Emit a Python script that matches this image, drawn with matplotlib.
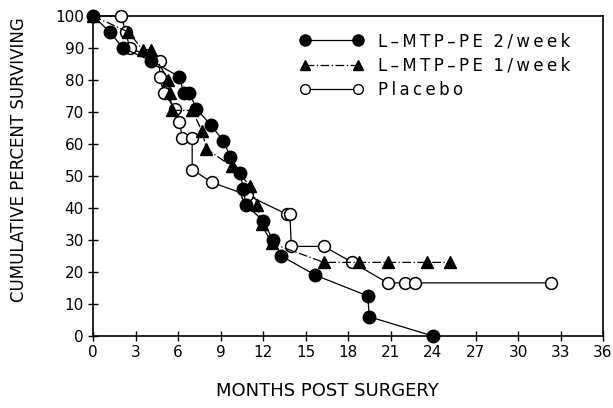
import matplotlib
matplotlib.use("Agg")
import matplotlib.pyplot as plt
from matplotlib.lines import Line2D

# L-MTP-PE 2/week (filled circles)
twice_months = [0, 1.2, 2.1, 4.1, 6.1, 6.4, 6.8, 7.3, 8.3, 9.2, 9.7, 10.4, 10.6, 10.8,
                12.0, 12.7, 13.3, 15.7, 19.4, 19.5, 24.0]
twice_pct = [100, 95, 90, 86, 81, 76, 76, 71, 66, 61, 56, 51, 46, 41,
             36, 30, 25, 19, 12.5, 6, 0]

# L-MTP-PE 1/week (filled triangles)
once_months = [0, 2.5, 3.5, 4.1, 5.3, 5.4, 5.6, 7.0, 7.7, 8.0, 9.8, 11.1, 11.6, 11.9,
               12.6, 16.3, 18.8, 20.8, 23.6, 25.2]
once_pct = [100, 95, 89.5, 89.5, 80, 76, 70.5, 70.5, 64, 58.5, 53, 47, 41, 35,
            29, 23, 23, 23, 23, 23]

# Placebo (open circles)
placebo_months = [0, 2.0, 2.3, 2.6, 4.7, 4.7, 5.0, 5.8, 6.1, 6.3, 7.0, 7.0, 8.4, 10.9,
                  13.7, 13.9, 14.0, 16.3, 18.3, 20.8, 22.0, 22.7, 32.3]
placebo_pct = [100, 100, 95, 90, 86, 81, 76, 71, 67, 62, 62, 52, 48, 44,
               38, 38, 28, 28, 23, 16.6, 16.6, 16.6, 16.6]

x_ticks = list(range(0, 37, 3))
y_ticks = list(range(0, 101, 10))

FS = 11
TS = "\u2009"  # thin space, to widen the lettering like the original


def spaced(s):
    return TS.join(s)


fig = plt.figure(figsize=(6.13, 4.08), dpi=100)
ax = fig.add_axes([93 / 613, 72 / 408, 510 / 613, 320 / 408])

dash_dot = (0, (7, 2, 1, 2))
ax.plot(placebo_months, placebo_pct, "-", color="black", lw=0.9,
        marker="o", ms=8.5, mfc="white", mec="black", mew=1.1, clip_on=False, zorder=3)
ax.plot(once_months, once_pct, color="black", lw=0.9, ls=dash_dot,
        marker="^", ms=8, mfc="black", mec="black", clip_on=False, zorder=4)
ax.plot(twice_months, twice_pct, "-", color="black", lw=0.9,
        marker="o", ms=9, mfc="black", mec="black", clip_on=False, zorder=5)

ax.set_xlim(0, 36)
ax.set_ylim(0, 100)
ax.set_xticks(x_ticks)
ax.set_yticks(y_ticks)
ax.tick_params(direction="inout", length=7, width=1, labelsize=FS, pad=3)
for s in ax.spines.values():
    s.set_linewidth(1.2)

ax.set_xlabel("MONTHS POST SURGERY", fontsize=13)
ax.set_ylabel("CUMULATIVE PERCENT SURVIVING", fontsize=12)
ax.xaxis.set_label_coords(0.459, -0.145)
ax.yaxis.set_label_coords(-0.128, 0.55)

handles = [
    Line2D([], [], color="black", lw=0.9, marker="o", ms=8, mfc="black"),
    Line2D([], [], color="black", lw=0.9, ls=dash_dot, marker="^", ms=7, mfc="black"),
    Line2D([], [], color="black", lw=0.9, marker="o", ms=7, mfc="white", mew=1.0),
]
labels = [spaced("L–MTP–PE") + "  " + spaced("2/week"),
          spaced("L–MTP–PE") + "  " + spaced("1/week"),
          spaced("Placebo")]
ax.legend(handles, labels, numpoints=2, frameon=False, fontsize=12,
          loc="upper left", bbox_to_anchor=(0.406, 0.95), borderpad=0,
          borderaxespad=0, handlelength=3.8, handletextpad=0.85, labelspacing=0.4)

fig.savefig("out.png", dpi=100)
